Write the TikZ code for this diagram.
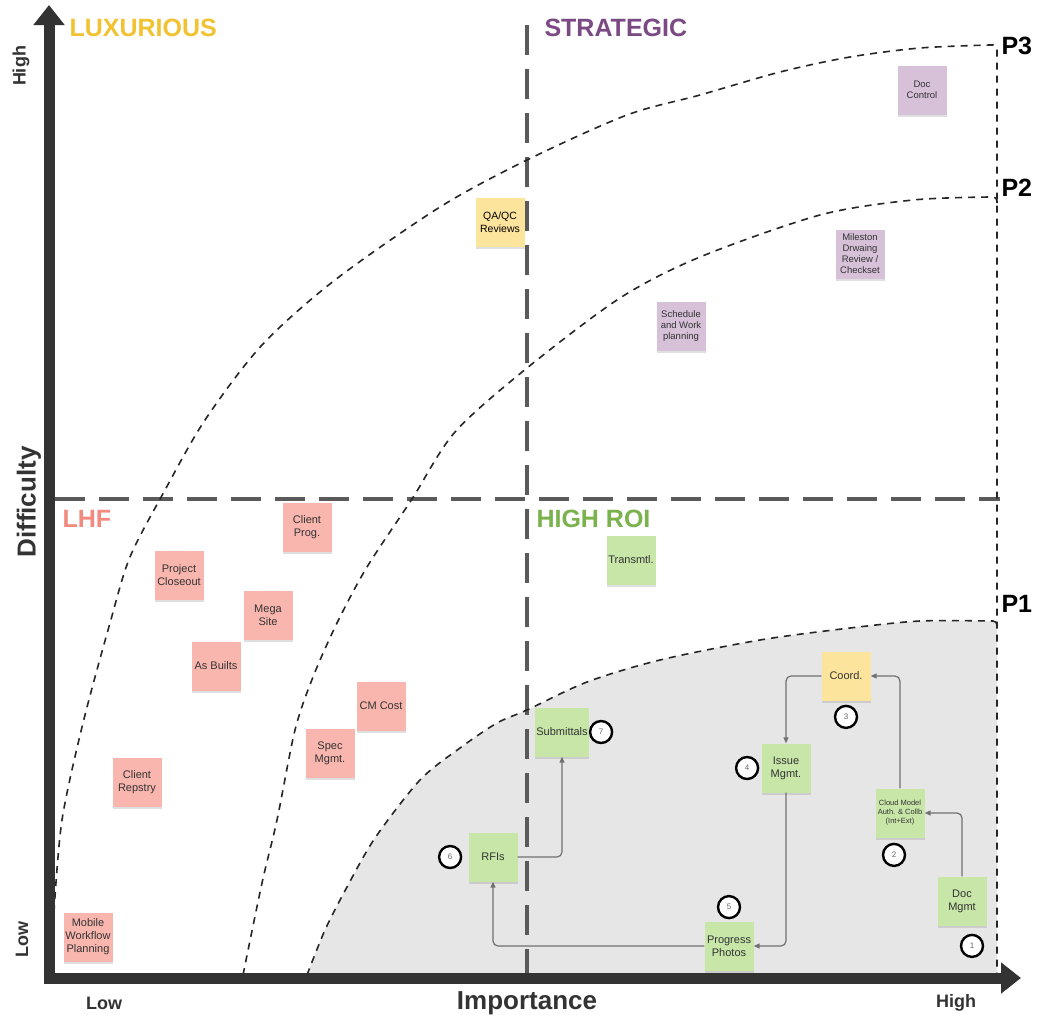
\documentclass[tikz,border=0pt]{standalone}
\usepackage{fontspec}
\setmainfont{Liberation Sans}
\usetikzlibrary{
  arrows.meta,
  positioning,
  shadows
}
\definecolor{axisc}{HTML}{333333}
\definecolor{zonec}{HTML}{E6E6E6}
\definecolor{splitc}{HTML}{5A5A5A}
\definecolor{luxc}{HTML}{F1C232}
\definecolor{stratc}{HTML}{7B4A85}
\definecolor{lhfc}{HTML}{F28A80}
\definecolor{roic}{HTML}{7AB24C}
\definecolor{lhfn}{HTML}{F8B6AE}
\definecolor{roin}{HTML}{C7E6A8}
\definecolor{luxn}{HTML}{FDE49D}
\definecolor{stratn}{HTML}{D6C1D8}
\definecolor{flowc}{HTML}{707070}
\tikzset{
  axis/.style = {line width=11pt, draw=axisc, -{Triangle[width=30pt,length=20pt]}},
  split/.style = {line width=3.2pt, draw=splitc, dash pattern=on 30pt off 14pt},
  curve/.style = {line width=1.6pt, draw=black!85, dash pattern=on 7pt off 6pt},
  zone/.style = {fill=zonec},
  quad/.style = {anchor=west, font=\fontsize{25}{30}\selectfont\bfseries},
  plab/.style = {anchor=west, font=\fontsize{25}{30}\selectfont\bfseries},
  alab/.style = {text=axisc, font=\fontsize{18}{22}\selectfont\bfseries},
  note/.style = {rectangle, minimum size=49pt, inner sep=1pt, align=center,
    text=axisc, font=\fontsize{11}{13}\selectfont,
    drop shadow={shadow xshift=0pt, shadow yshift=-2pt, opacity=.25}},
  small/.style = {font=\fontsize{9.5}{11}\selectfont},
  tiny/.style = {font=\fontsize{7.5}{9}\selectfont},
  lhf/.style = {note, fill=lhfn},
  roi/.style = {note, fill=roin},
  lux/.style = {note, fill=luxn},
  strat/.style = {note, fill=stratn},
  num/.style = {circle, draw=black, line width=2.4pt, fill=white, minimum size=22pt,
    inner sep=0pt, text=black!60, font=\fontsize{8}{9}\selectfont},
  flow/.style = {draw=flowc, line width=1.2pt, rounded corners=5pt,
    -{Triangle[length=6pt,width=5pt]}},
}

\begin{document}
\begin{tikzpicture}[x=1pt, y=-1pt]
  \path[use as bounding box, fill=white] (0,0) rectangle (1047,1020);

  % P1 zone
  \fill[zone] plot[smooth, tension=.5] coordinates {(307,975) (325,930) (347,887) (375,838) (420,780)
      (460,748) (497,723) (527,710) (587,682) (660,660) (760,640) (850,628) (920,621) (990,621)}
    -- (997,621) -- (997,975) -- cycle;

  % quadrants
  \draw[split] (527,25) -- (527,975);
  \draw[split] (55,499) -- (1000,499);

  % priority curves
  \draw[curve] plot[smooth, tension=.5] coordinates {(54,912) (62,820) (83,723) (110,623) (130,557)
      (165,490) (205,420) (262,345) (335,280) (440,207) (527,160) (627,115) (700,95) (780,72)
      (850,57) (920,48) (990,45)}
    [rounded corners=4pt] -- (997,45) -- (997,975);
  \draw[curve] plot[smooth, tension=.5] coordinates {(243,975) (262,883) (277,820) (295,730)
      (313,677) (337,623) (367,567) (412,499) (455,432) (527,368) (620,298) (700,257) (820,215)
      (913,200) (990,197)}
    [rounded corners=4pt] -- (997,197) -- (997,205);
  \draw[curve] plot[smooth, tension=.5] coordinates {(307,975) (325,930) (347,887) (375,838) (420,780)
      (460,748) (497,723) (527,710) (587,682) (660,660) (760,640) (850,628) (920,621) (990,621)}
    [rounded corners=4pt] -- (997,621) -- (997,628);

  % axes
  \coordinate (o) at (49,983.5);
  \coordinate (ytop) at (49,5);
  \coordinate (xo) at (43.5,978);
  \coordinate (xend) at (1021,978);
  \draw[axis] (o) -- (ytop);
  \draw[axis] (xo) -- (xend);

  \node[alab, rotate=90] (yhi) at (21,66) {High};
  \node[alab, rotate=90] (ylo) at (22,939) {Low};
  \node[alab, rotate=90, font=\fontsize{26}{30}\selectfont\bfseries] (ylab) at (29,502) {Difficulty};
  \node[alab] (xlo) at (104,1003) {Low};
  \node[alab] (xhi) at (956,1003) {High};
  \node[alab, font=\fontsize{26}{30}\selectfont\bfseries] (xlab) at (527,1003) {Importance};

  \node[quad, text=luxc] (luxl) at (66,28) {LUXURIOUS};
  \node[quad, text=stratc] (stratl) at (541,28) {STRATEGIC};
  \node[quad, text=lhfc] (lhfl) at (59,519) {LHF};
  \node[quad, text=roic] (roil) at (533,519) {HIGH ROI};

  \node[plab] (p3) at (998,46) {P3};
  \node[plab] (p2) at (998,188) {P2};
  \node[plab] (p1) at (998,604) {P1};

  % notes
  \node[lhf] (mobile) at (88,937) {Mobile\\Workflow\\Planning};
  \node[lhf] (repstry) at (137,782) {Client\\Repstry};
  \node[lhf] (closeout) at (179,575) {Project\\Closeout};
  \node[lhf] (mega) at (268,615) {Mega\\Site};
  \node[lhf] (builts) at (216,666) {As Builts};
  \node[lhf] (prog) at (307,527) {Client\\Prog.};
  \node[lhf] (cost) at (381,706) {CM Cost};
  \node[lhf] (spec) at (330,753) {Spec\\Mgmt.};
  \node[lux, font=\fontsize{10.5}{12.5}\selectfont, text=black] (qaqc) at (500,222) {QA/QC\\Reviews};
  \node[strat, small] (docc) at (922,90) {Doc\\Control};
  \node[strat, small] (mile) at (860,254) {Mileston\\Drwaing\\Review /\\Checkset};
  \node[strat, small] (sched) at (681,326) {Schedule\\and Work\\planning};
  \node[roi] (trans) at (631,560) {Transmtl.};
  \node[roi] (subm) at (562,732) {Submittals};
  \node[roi] (rfi) at (493,857) {RFIs};
  \node[lux] (coord) at (846,676) {Coord.};
  \node[roi] (issue) at (786,768) {Issue\\Mgmt.};
  \node[roi, tiny] (cloud) at (900,813) {Cloud Model\\Auth. \& Collb\\(Int+Ext)};
  \node[roi] (docm) at (962,901) {Doc\\Mgmt};
  \node[roi] (photos) at (729,946) {Progress\\Photos};

  % workflow
  \draw[flow] (docm.north) |- (cloud.east);
  \draw[flow] (cloud.north) |- (coord.east);
  \draw[flow] (coord.west) -| (issue.north);
  \draw[flow] (issue.south) |- (photos.east);
  \draw[flow] (photos.west) -| (rfi.south);
  \draw[flow] (rfi.east) -| (subm.south);

  \node[num, below=8pt of docm, xshift=10pt] (n1) {1};
  \node[num, below=5pt of cloud, xshift=-6pt] (n2) {2};
  \node[num, below=4pt of coord] (n3) {3};
  \node[num, left=2pt of issue] (n4) {4};
  \node[num, above=2pt of photos] (n5) {5};
  \node[num, left=6pt of rfi] (n6) {6};
  \node[num, right=0pt of subm] (n7) {7};
\end{tikzpicture}
\end{document}
